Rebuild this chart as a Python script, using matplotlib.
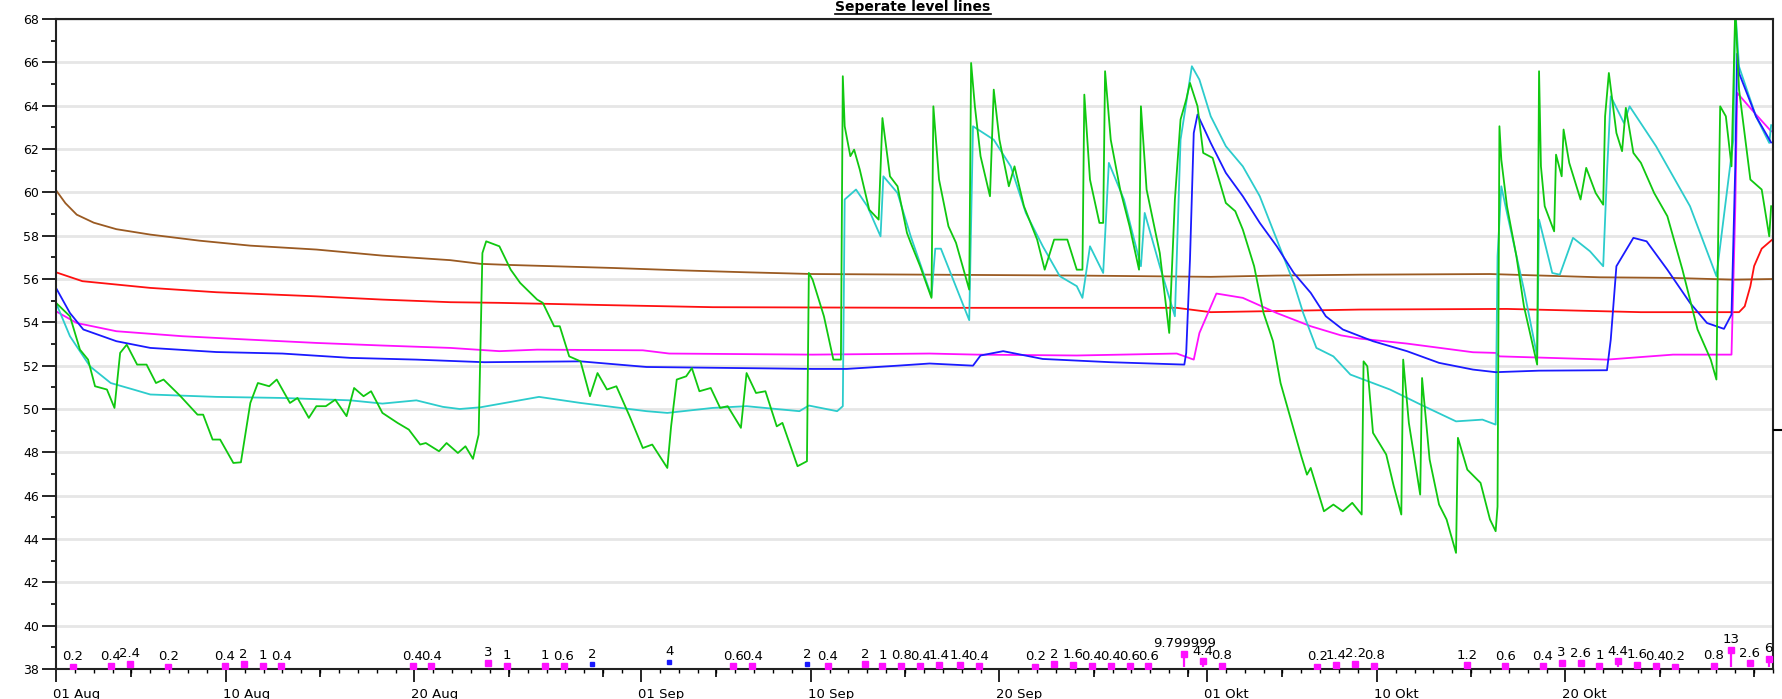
import matplotlib
matplotlib.use("Agg")
import matplotlib.pyplot as plt
from matplotlib.lines import Line2D
from matplotlib.transforms import ScaledTranslation

# x values are days since 01 Aug
brown_day = [0, 0.5, 1.1, 2, 3.2, 5, 7.6, 10.3, 13.8, 17.3, 20.9, 22.5, 24, 29.5,
             33.1, 36.6, 40.1, 46.3, 54.1, 61.2, 64.7, 69.1, 76, 81.8, 85.7, 88.9, 91]
brown_val = [60.1, 59.5, 58.97, 58.6, 58.3, 58.05, 57.77, 57.54, 57.36, 57.08, 56.87,
             56.7, 56.65, 56.51, 56.4, 56.31, 56.23, 56.2, 56.16, 56.1, 56.16, 56.2,
             56.23, 56.08, 56.05, 55.97, 56.0]

red_day = [0, 1.4, 5, 8.5, 13.8, 17.3, 20.9, 23.5, 29.5, 34.8, 46.3, 59.4, 61.2, 69.1,
           76.9, 84, 89.2, 89.5, 89.8, 90.0, 90.4, 91]
red_val = [56.31, 55.9, 55.59, 55.39, 55.2, 55.05, 54.93, 54.9, 54.79, 54.7, 54.67,
           54.67, 54.47, 54.59, 54.62, 54.47, 54.47, 54.74, 55.67, 56.6, 57.4, 57.85]

magenta_day = [0, 1.1, 3.2, 6.7, 10.3, 13.8, 17.3, 20.9, 23.5, 25.5, 31.1, 32.5, 40.1,
               46.3, 48.8, 54.1, 59.4, 60.3, 60.6, 61.5, 62.9, 64.7, 66.5, 68.1, 69.1,
               71.6, 75.1, 76.3, 76.5, 82.2, 85.7, 88.8, 89.0, 89.1, 90.1, 90.9]
magenta_val = [54.51, 53.97, 53.59, 53.36, 53.2, 53.05, 52.93, 52.82, 52.67, 52.74,
               52.71, 52.56, 52.51, 52.56, 52.51, 52.47, 52.56, 52.28, 53.51, 55.33,
               55.13, 54.43, 53.82, 53.4, 53.25, 53.02, 52.62, 52.59, 52.43, 52.28,
               52.51, 52.51, 59.3, 64.59, 63.59, 62.82]

blue_day = [0, 0.74, 1.45, 3.2, 5, 8.5, 12, 15.6, 19.1, 22.7, 27.8, 31.3, 40.1, 41.9,
            44.6, 46.3, 48.6, 49.0, 50.2, 52.3, 55.9, 59.8, 59.9, 60.1, 60.3, 60.5,
            61.2, 62.0, 62.9, 63.8, 64.7, 65.6, 66.5, 67.3, 68.2, 69.8, 71.6, 73.3,
            75.1, 76.3, 78.6, 82.2, 82.4, 82.7, 83.6, 84.3, 85.4, 86.6, 87.5, 88.4,
            88.8, 89.0, 89.1, 89.2, 90.1, 90.9]
blue_val = [55.59, 54.43, 53.67, 53.13, 52.82, 52.63, 52.56, 52.36, 52.28, 52.16, 52.2,
            51.94, 51.85, 51.85, 52.0, 52.1, 52.0, 52.47, 52.67, 52.31, 52.16, 52.05,
            52.59, 56.9, 62.74, 63.59, 62.28, 60.9, 59.82, 58.59, 57.51, 56.28, 55.36,
            54.28, 53.67, 53.13, 52.67, 52.13, 51.82, 51.7, 51.77, 51.79, 53.2, 56.59,
            57.9, 57.74, 56.43, 54.9, 53.97, 53.7, 54.36, 61.2, 66.4, 65.5, 63.5, 62.3]

cyan_day = [0, 0.74, 1.8, 2.9, 4.1, 5, 8.5, 12, 15.6, 17.3, 19.1, 20.5, 21.4, 22.5,
            25.6, 27.8, 31.3, 32.4, 34.8, 36.6, 39.4, 39.9, 41.4, 41.7, 41.8, 42.4,
            43.0, 43.7, 43.85, 44.6, 45.3, 46.4, 46.6, 46.9, 47.4, 48.4, 48.6, 49.7,
            50.6, 51.4, 52.3, 53.2, 54.1, 54.4, 54.8, 55.5, 55.8, 56.6, 57.5, 57.7,
            58.5, 59.3, 59.6, 60.2, 60.6, 61.2, 62.0, 62.9, 63.8, 64.7, 65.6, 66.1,
            66.8, 67.7, 68.6, 70.7, 72.5, 74.2, 75.6, 76.3, 76.4, 76.6, 76.9, 77.8,
            78.5, 78.6, 79.3, 79.7, 80.4, 81.3, 82.0, 82.2, 82.4, 83.1, 83.4, 84.8,
            86.6, 88.0, 88.9, 89.0, 89.2, 90.1, 90.8, 90.9]
cyan_val = [54.9, 53.36, 51.97, 51.2, 50.9, 50.67, 50.56, 50.51, 50.4, 50.25, 50.4,
            50.1, 50.0, 50.08, 50.56, 50.28, 49.9, 49.82, 50.05, 50.13, 49.9, 50.16,
            49.9, 50.13, 59.67, 60.13, 59.36, 57.97, 60.74, 59.97, 57.97, 55.2, 57.4,
            57.4, 56.3, 54.1, 63.05, 62.43, 61.2, 59.05, 57.51, 56.13, 55.67, 55.13,
            57.51, 56.28, 61.36, 59.67, 56.59, 59.05, 56.59, 54.28, 62.43, 65.82, 65.2,
            63.51, 62.13, 61.2, 59.82, 57.82, 55.82, 54.43, 52.82, 52.43, 51.59, 50.9,
            50.13, 49.43, 49.51, 49.28, 57.05, 60.28, 59.05, 55.51, 52.43, 58.74,
            56.28, 56.2, 57.9, 57.28, 56.59, 60.9, 64.43, 63.2, 63.97, 62.13, 59.36,
            56.13, 62.43, 68.5, 65.8, 63.5, 62.28, 63.1]

green_day = [0, 0.74, 1.27, 1.7, 2.07, 2.7, 3.1, 3.4, 3.75, 4.3, 4.8, 5.3, 5.7, 6.6,
             7.5, 7.8, 8.3, 8.7, 9.4, 9.8, 10.3, 10.7, 11.3, 11.7, 12.4, 12.8, 13.4,
             13.8, 14.3, 14.8, 15.4, 15.8, 16.3, 16.7, 17.3, 18.1, 18.7, 19.3, 19.6,
             20.3, 20.7, 21.3, 21.7, 22.1, 22.4, 22.6, 22.8, 23.5, 24.1, 24.6, 25.5,
             25.8, 26.4, 26.7, 27.2, 27.8, 28.3, 28.7, 29.2, 29.7, 30.4, 31.1, 31.6,
             32.4, 32.6, 32.9, 33.4, 33.7, 34.1, 34.7, 35.2, 35.6, 36.3, 36.6, 37.1,
             37.6, 38.2, 38.5, 39.3, 39.8, 39.9, 40.1, 40.7, 41.2, 41.6, 41.7, 41.8,
             42.1, 42.3, 42.6, 43.1, 43.6, 43.8, 44.2, 44.6, 45.1, 45.3, 45.8, 46.4,
             46.5, 46.8, 47.3, 47.7, 48.4, 48.5, 48.7, 49.0, 49.5, 49.7, 50.0, 50.5,
             50.8, 51.3, 52.0, 52.4, 52.9, 53.6, 54.1, 54.4, 54.5, 54.8, 55.3, 55.5,
             55.6, 55.9, 56.4, 56.9, 57.4, 57.5, 57.8, 58.5, 59.0, 59.3, 59.6, 59.9,
             60.1, 60.5, 60.8, 61.3, 62.0, 62.5, 62.9, 63.5, 64.0, 64.5, 64.9, 65.4,
             66.0, 66.3, 66.5, 67.2, 67.7, 68.2, 68.7, 69.2, 69.3, 69.5, 69.8, 70.5,
             70.9, 71.3, 71.4, 71.7, 72.3, 72.4, 72.8, 73.3, 73.7, 74.2, 74.3, 74.8,
             75.5, 76.0, 76.3, 76.4, 76.5, 76.6, 76.9, 77.4, 77.8, 78.2, 78.5, 78.6,
             78.7, 78.9, 79.4, 79.5, 79.8, 79.9, 80.2, 80.8, 81.1, 81.6, 82.0, 82.1,
             82.3, 82.7, 83.0, 83.2, 83.6, 84.0, 84.7, 85.4, 86.2, 87.0, 87.7, 88.0,
             88.1, 88.2, 88.5, 88.8, 89.0, 89.2, 89.8, 90.4, 90.8, 90.9]
green_val = [54.9, 54.28, 52.74, 52.28, 51.05, 50.9, 50.05, 52.59, 52.97, 52.05, 52.05,
             51.2, 51.36, 50.59, 49.74, 49.74, 48.59, 48.59, 47.51, 47.54, 50.28, 51.2,
             51.05, 51.36, 50.28, 50.51, 49.59, 50.13, 50.13, 50.43, 49.67, 50.97,
             50.59, 50.82, 49.82, 49.36, 49.05, 48.36, 48.43, 48.05, 48.43, 47.97,
             48.28, 47.7, 48.82, 57.2, 57.74, 57.51, 56.43, 55.82, 55.05, 54.9, 53.82,
             53.82, 52.43, 52.2, 50.59, 51.66, 50.9, 51.05, 49.67, 48.2, 48.36, 47.28,
             49.2, 51.36, 51.51, 51.89, 50.82, 50.97, 50.05, 50.13, 49.13, 51.66,
             50.74, 50.82, 49.2, 49.36, 47.36, 47.59, 56.28, 55.97, 54.28, 52.28,
             52.28, 65.36, 63.05, 61.67, 61.97, 61.05, 59.2, 58.74, 63.43, 60.74,
             60.28, 58.13, 57.67, 56.59, 55.13, 63.97, 60.59, 58.43, 57.67, 55.51,
             65.97, 63.97, 61.67, 59.82, 64.74, 62.43, 60.28, 61.2, 59.36, 57.82,
             56.43, 57.82, 57.82, 56.43, 56.43, 64.51, 60.59, 58.59, 58.59, 65.59,
             62.43, 60.13, 58.43, 56.43, 63.97, 60.13, 57.2, 53.51, 59.67, 63.36,
             64.28, 65.05, 63.97, 61.82, 61.59, 59.51, 59.13, 58.28, 56.59, 54.43,
             53.13, 51.2, 49.67, 47.82, 46.97, 47.28, 45.28, 45.59, 45.28, 45.67,
             45.13, 52.2, 51.97, 48.9, 47.9, 46.44, 45.13, 52.28, 49.36, 46.05, 51.43,
             47.67, 45.59, 44.9, 43.36, 48.67, 47.2, 46.59, 44.9, 44.36, 45.5, 63.05,
             61.51, 59.36, 57.05, 54.74, 53.2, 52.05, 65.59, 61.2, 59.36, 58.2, 61.74,
             60.74, 62.9, 61.36, 59.67, 61.13, 59.97, 59.43, 63.51, 65.51, 62.74, 61.9,
             63.9, 61.82, 61.36, 59.97, 58.9, 56.43, 53.67, 52.28, 51.36, 58.43, 63.97,
             63.51, 61.2, 68.5, 64.74, 60.59, 60.13, 57.97, 59.36]

# rain amounts (bottom markers)
rain_day = [0.9, 2.9, 3.9, 5.95, 8.95, 9.95, 10.95, 11.95, 18.9, 19.9, 22.9, 23.9,
            25.9, 26.9, 35.9, 36.9, 40.9, 42.9, 43.8, 44.8, 45.8, 46.8, 47.9, 48.9,
            51.9, 52.9, 53.9, 54.9, 55.9, 56.9, 57.9, 59.8, 60.8, 61.8, 66.85, 67.85,
            68.86, 69.86, 74.8, 76.8, 78.8, 79.8, 80.8, 81.8, 82.8, 83.8, 84.8, 85.8,
            87.85, 88.76, 89.76, 90.77]
rain_val = [0.2, 0.4, 2.4, 0.2, 0.4, 2, 1, 0.4, 0.4, 0.4, 3, 1, 1, 0.6, 0.6, 0.4, 0.4,
            2, 1, 0.8, 0.4, 1.4, 1.4, 0.4, 0.2, 2, 1.6, 0.4, 0.4, 0.6, 0.6, 9.799999,
            4.4, 0.8, 0.2, 1.4, 2.2, 0.8, 1.2, 0.6, 0.4, 3, 2.6, 1, 4.4, 1.6, 0.4, 0.2,
            0.8, 13, 2.6, 6]
rain2_day = [28.4, 32.5, 39.8]
rain2_val = [2, 4, 2]

tick_days = [0, 9, 19, 31, 40, 50, 61, 70, 80]
tick_labels = ["01 Aug", "10 Aug", "20 Aug", "01 Sep", "10 Sep", "20 Sep",
               "01 Okt", "10 Okt", "20 Okt"]
mid_days = [4, 14, 24, 29, 35, 45, 55, 60, 65, 75, 85, 90]

plt.rcParams['font.family'] = 'DejaVu Sans'

fig = plt.figure(figsize=(17.83, 6.99), dpi=100)
ax = fig.add_axes([0.0314, 0.0429, 0.963, 0.9299])

ax.plot(brown_day, brown_val, color='#9a5a22', lw=1.3)
ax.plot(red_day, red_val, color='#ff1010', lw=1.3)
ax.plot(magenta_day, magenta_val, color='#ff10ff', lw=1.3)
ax.plot(cyan_day, cyan_val, color='#2ccccc', lw=1.3)
ax.plot(blue_day, blue_val, color='#1a1aff', lw=1.3)
ax.plot(green_day, green_val, color='#10c810', lw=1.3)

ax.set_xlim(0, 91)
ax.set_ylim(38, 68)
ax.set_yticks(range(38, 69, 2))
ax.set_yticks(range(39, 68, 2), minor=True)
ax.set_xticks(tick_days)
ax.set_xticklabels(tick_labels)
ax.set_xticks(range(0, 92), minor=True)
ax.yaxis.grid(True, color='#e6e6e6', lw=2)
ax.set_axisbelow(True)

ax.tick_params(axis='y', which='major', length=10, width=1.2, labelsize=9, pad=2)
ax.tick_params(axis='y', which='minor', length=3.5, width=1.2)
ax.tick_params(axis='x', which='major', length=9.5, width=1.2, labelsize=9.5, pad=4)
ax.tick_params(axis='x', which='minor', length=3, width=1)
offset = ScaledTranslation(-3 / 100, 0, fig.dpi_scale_trans)
for lab in ax.get_xticklabels():
    lab.set_horizontalalignment('left')
    lab.set_transform(lab.get_transform() + offset)
for sp in ax.spines.values():
    sp.set_linewidth(1.5)
    sp.set_color('#222222')

# medium ticks every 5th day
sec = ax.secondary_xaxis('bottom')
sec.set_xticks(mid_days)
sec.set_xticklabels([])
sec.tick_params(length=6, width=1.2)
sec.spines['bottom'].set_visible(False)

# rain on its own scale
ax2 = ax.twinx()
ax2.set_ylim(-1.625, 485.9)
ax2.vlines(rain_day, 0, rain_val, color='#ff10ff', lw=1.6)
ax2.plot(rain_day, rain_val, 's', ms=3.9, color='#ff10ff', mec='#ff10ff')
ax2.plot(rain2_day, rain2_val, 's', ms=2.8, color='#1a1aff', mec='#1a1aff')
for d, v in zip(rain_day + rain2_day, rain_val + rain2_val):
    txt = ('%g' % v) if v != 9.799999 else '9.799999'
    ax2.annotate(txt, (d, v), xytext=(0, 2.5), textcoords='offset points',
                 ha='center', va='bottom', fontsize=9.5, annotation_clip=False)
ax2.set_yticks([177.6])
ax2.set_yticklabels([])
ax2.tick_params(axis='y', length=8, width=1.5)
for sp in ax2.spines.values():
    sp.set_visible(False)

title = fig.text(0.512, 1 - 11 / 699, "Seperate level lines", ha='center',
                 va='baseline', fontsize=10, fontweight='bold')
fig.canvas.draw()
bb = title.get_window_extent()
inv = fig.transFigure.inverted()
(x0, y0), (x1, _) = inv.transform([(bb.x0, bb.y0), (bb.x1, bb.y0)])
fig.add_artist(Line2D([x0, x1], [1 - 13.5 / 699] * 2, transform=fig.transFigure,
                      color='black', lw=1.2))

fig.savefig("out.png", dpi=100)
